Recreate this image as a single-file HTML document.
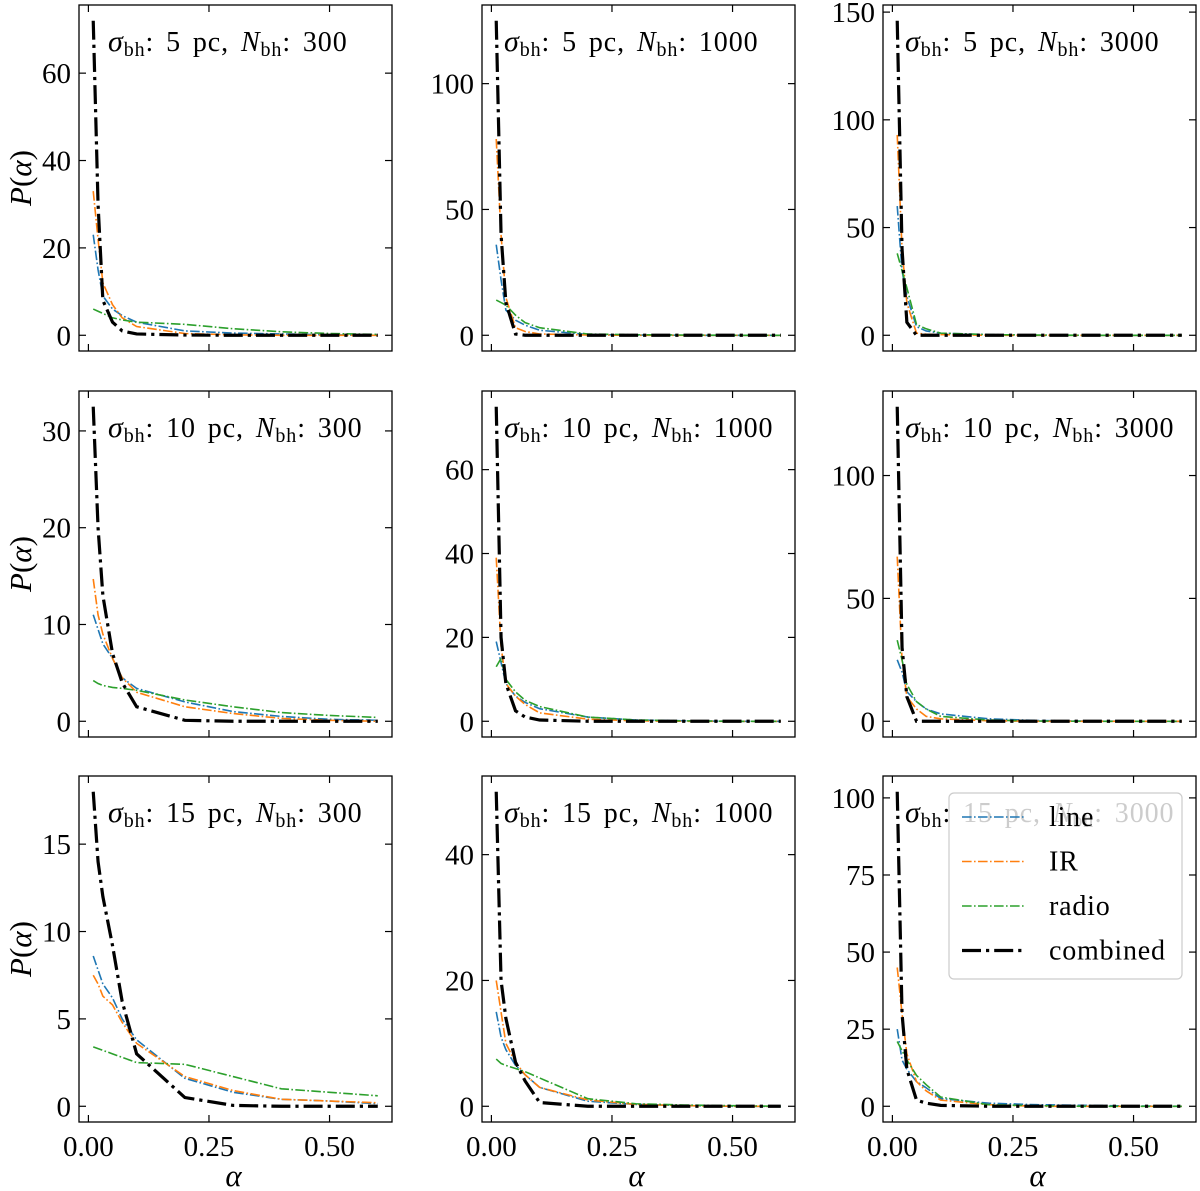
<!DOCTYPE html>
<html><head><meta charset="utf-8">
<style>
html,body{margin:0;padding:0;background:#fff;}
svg{display:block;font-family:"Liberation Serif","DejaVu Serif",serif;}
</style></head>
<body>
<svg id="chart" width="1200" height="1191" viewBox="0 0 1200 1191" xmlns="http://www.w3.org/2000/svg"></svg>
<script>
// ---- data ----
const alphaValues = [0.01,0.02,0.03,0.05,0.07,0.1,0.2,0.3,0.4,0.5,0.6];
const seriesNames = ["line","IR","radio","combined"];
const sigmaLabels = ["5","10","15"];
const nbhLabels = ["300","1000","3000"];
const xTickValues = [0,0.25,0.5];
const xTickLabels = ["0.00","0.25","0.50"];
const yTickSteps = [[20,50,50],[10,20,50],[5,20,25]];
const line11 = [23,15,9,6,4.5,3,1,0.5,0.3,0.1,0];
const ir11 = [33,22,12,7,4,2,0.4,0.1,0,0,0];
const radio11 = [6,5.5,5,4,3.5,3,2.5,1.5,0.8,0.4,0.2];
const comb11 = [72,30,8,3,1,0.3,0.05,0,0,0,0];
const line12 = [36,22,10,6,4,2,0.3,0.1,0,0,0];
const ir12 = [78,40,15,3,1.5,0.5,0.1,0,0,0,0];
const radio12 = [14,13,12,8,5,3,0.5,0.2,0.1,0,0];
const comb12 = [125,40,13,0.5,0,0,0,0,0,0,0];
const line13 = [60,30,18,4,2,1,0.3,0,0,0,0];
const ir13 = [93,40,15,1,0.5,0.3,0,0,0,0,0];
const radio13 = [38,30,22,5,3,1,0.3,0.1,0,0,0];
const comb13 = [146,40,6,0,0,0,0,0,0,0,0];
const line21 = [11,9.5,8,6.5,4.5,3.4,2,1,0.5,0.2,0.1];
const ir21 = [14.7,11,9,6.5,4.5,3,1.5,0.8,0.3,0.1,0];
const radio21 = [4.2,3.9,3.7,3.5,3.4,3.2,2.2,1.5,0.9,0.6,0.4];
const comb21 = [32.5,20,13,7,4,1.5,0.1,0,0,0,0];
const line22 = [19,14,9,6,4.5,3,1,0.3,0.1,0,0];
const ir22 = [39,18,9,6,4,2,0.5,0.1,0,0,0];
const radio22 = [13,15,10,7,5,3.5,1,0.3,0.1,0,0];
const comb22 = [75,20,9,2.5,1,0.3,0,0,0,0,0];
const line23 = [25,20,12,8,5,3,1,0.3,0.1,0,0];
const ir23 = [67,25,10,5,2,1,0.2,0,0,0,0];
const radio23 = [33,25,15,8,5,2,0.5,0.1,0,0,0];
const comb23 = [128,30,10,0,0,0,0,0,0,0,0];
const line31 = [8.6,7.8,7,6.2,5,3.8,1.6,0.8,0.4,0.3,0.15];
const ir31 = [7.5,7,6.3,5.8,4.8,3.6,1.7,0.9,0.4,0.3,0.2];
const radio31 = [3.4,3.3,3.2,3,2.8,2.5,2.4,1.7,1,0.8,0.6];
const comb31 = [18,14,12,9.2,6,3,0.5,0.05,0,0,0];
const line32 = [15,11,9,6.5,5,3,0.8,0.3,0.1,0,0];
const ir32 = [20,15,10,7,5,3,1,0.3,0.1,0,0];
const radio32 = [7.5,6.8,6.5,6,5.5,4.5,1.2,0.4,0.2,0.1,0];
const comb32 = [50,20,14,7,4,0.6,0,0,0,0,0];
const line33 = [25,15,12,8,6,2.5,1,0.5,0.3,0.1,0];
const ir33 = [45,30,17,8,5,2,0.5,0,0,0,0];
const radio33 = [21,18,15,10,7,3,0.5,0.2,0,0,0];
const comb33 = [102,30,12,2,1,0.3,0,0,0,0,0];
const panelData = [
 [[line11,ir11,radio11,comb11],[line12,ir12,radio12,comb12],[line13,ir13,radio13,comb13]],
 [[line21,ir21,radio21,comb21],[line22,ir22,radio22,comb22],[line23,ir23,radio23,comb23]],
 [[line31,ir31,radio31,comb31],[line32,ir32,radio32,comb32],[line33,ir33,radio33,comb33]]
];

// ---- style / layout ----
const colors = ["#1f77b4","#ff7f0e","#2ca02c","#000000"];
const widths = [1.6,1.6,1.6,3.2];
const dashes = ["9.6,2.4,1.6,2.4","9.6,2.4,1.6,2.4","9.6,2.4,1.6,2.4","19,5,3.2,5"];
const colX = [79,482,883], rowY = [5,391,776], PW = 313, PH = 346;
const XMIN = -0.0195, XMAX = 0.6295;
const NS = "http://www.w3.org/2000/svg";
const svg = document.getElementById("chart");
function mk(tag, attrs, parent){
  const e = document.createElementNS(NS, tag);
  for (const k in attrs) e.setAttribute(k, attrs[k]);
  (parent||svg).appendChild(e); return e;
}

for (let r=0;r<3;r++){
  for (let c=0;c<3;c++){
    const x0 = colX[c], y0 = rowY[r];
    const data = panelData[r][c];
    let maxV = 0; data.forEach(s=>s.forEach(v=>{ if(v>maxV) maxV=v; }));
    const ymin = -0.05*maxV, ymax = 1.05*maxV;
    const xs = v => x0 + (v - XMIN)/(XMAX - XMIN)*PW;
    const ys = v => y0 + PH - (v - ymin)/(ymax - ymin)*PH;
    const g = mk("g", {});
    
    
    const clipId = "clip"+r+c;
    const cp = mk("clipPath",{id:clipId},g);
    mk("rect",{x:x0,y:y0,width:PW,height:PH},cp);
    for (let s=0;s<4;s++){
      const pts = alphaValues.map((a,i)=>xs(a).toFixed(2)+","+ys(data[s][i]).toFixed(2)).join(" ");
      const pl = mk("polyline",{points:pts,fill:"none",stroke:colors[s],"stroke-width":widths[s],"stroke-dasharray":dashes[s],"clip-path":"url(#"+clipId+")"},g);
      
      
    }
    const fr = mk("rect",{x:x0,y:y0,width:PW,height:PH,fill:"none",stroke:"#000","stroke-width":1.3},g);
    
    
    xTickValues.forEach((t,i)=>{
      const X = xs(t);
      mk("line",{x1:X,x2:X,y1:y0+PH,y2:y0+PH-7,stroke:"#000","stroke-width":1.2},g);
      mk("line",{x1:X,x2:X,y1:y0,y2:y0+7,stroke:"#000","stroke-width":1.2},g);
      if (r===2){
        const tl = mk("text",{x:X,y:1156,"font-size":29,"text-anchor":"middle",fill:"#000"},g);
        tl.textContent = xTickLabels[i];
        
        
      }
    });
    const step = yTickSteps[r][c];
    for (let t=0; t<=ymax; t+=step){
      const Y = ys(t);
      mk("line",{x1:x0,x2:x0+7,y1:Y,y2:Y,stroke:"#000","stroke-width":1.2},g);
      mk("line",{x1:x0+PW,x2:x0+PW-7,y1:Y,y2:Y,stroke:"#000","stroke-width":1.2},g);
      const tl = mk("text",{x:x0-8,y:Y+10,"font-size":29,"text-anchor":"end",fill:"#000"},g);
      tl.textContent = String(t);
      
      
    }
    const tt = mk("text",{x:x0+(c===0?29:22),y:y0+46,"font-size":28,fill:"#000","letter-spacing":"0.9","word-spacing":"4"},g);
    
    
    tt.innerHTML = '<tspan font-style="italic" font-size="30">σ</tspan><tspan font-size="20" dy="5">bh</tspan><tspan dy="-5">: '+sigmaLabels[r]+' pc, </tspan><tspan font-style="italic">N</tspan><tspan font-size="20" dy="5">bh</tspan><tspan dy="-5">: '+nbhLabels[c]+'</tspan>';
    if (c===0){
      const cy = y0+PH/2;
      const yl = mk("text",{x:0,y:0,"font-size":31,"text-anchor":"middle",fill:"#000",transform:"translate(31,"+cy+") rotate(-90)"},g);
      yl.innerHTML = '<tspan font-style="italic">P</tspan>(<tspan font-style="italic">α</tspan>)';
      
      
    }
    if (r===2){
      const xl = mk("text",{x:x0+PW/2-2,y:1186,"font-size":31,"font-style":"italic","text-anchor":"middle",fill:"#000"},g);
      xl.textContent = "α";
      
      
    }
  }
}
const lg = mk("g",{});


mk("rect",{x:949,y:793,width:233,height:186,rx:5,fill:"rgba(255,255,255,0.8)",stroke:"#ccc","stroke-width":1.2},lg);
seriesNames.forEach((n,i)=>{
  const Y = 817 + i*44.5;
  const ln = mk("line",{x1:962,x2:1024,y1:Y,y2:Y,stroke:colors[i],"stroke-width":widths[i],"stroke-dasharray":dashes[i]},lg);
  
  
  const t = mk("text",{x:1049,y:Y+9,"font-size":28,fill:"#000","letter-spacing":"0.8"},lg);
  t.textContent = n;
  
  
});
</script>
</body></html>
